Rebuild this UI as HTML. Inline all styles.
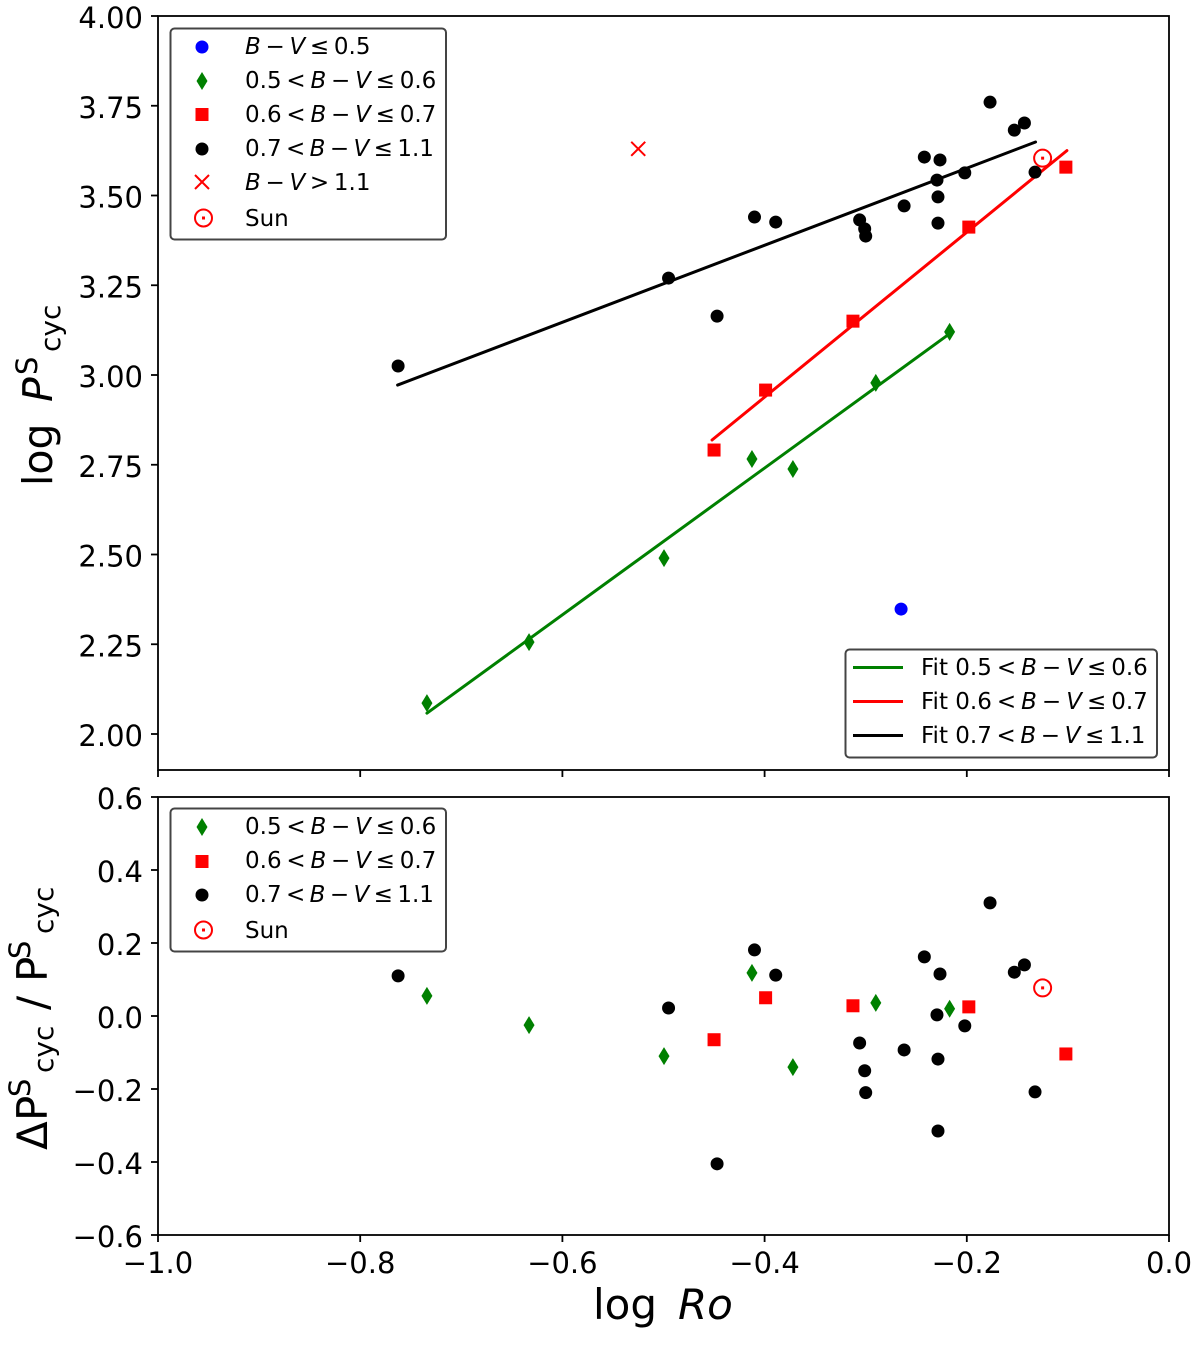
<!DOCTYPE html>
<html lang="en"><head><meta charset="utf-8"><title>Cycle period vs Rossby number</title>
<style>
html,body{margin:0;padding:0;background:#fff}
svg{display:block}
text{font-family:"DejaVu Sans","Liberation Sans",sans-serif;fill:#000}
.lg{font-size:23px}
.i{font-style:italic}
.tick{font-size:29px}
.frame{fill:#fff;fill-opacity:.8;stroke:#444;stroke-width:2}
</style></head>
<body>
<svg id="c" width="1200" height="1345" viewBox="0 0 1200 1345" xmlns="http://www.w3.org/2000/svg">
  <g id="top-marks"></g>
  <g id="bot-marks"></g>
  <g id="axes"></g>

  <g>
    <text transform="translate(52,486) rotate(-90)" font-size="41">log</text>
    <text transform="translate(52,402) rotate(-90)" font-size="41" class="i">P</text>
    <text transform="translate(37,375) rotate(-90)" font-size="29">S</text>
    <text transform="translate(60,352) rotate(-90)" font-size="28">cyc</text>
  </g>
  <g>
    <text transform="translate(47,1150) rotate(-90)" font-size="42">Δ</text>
    <text transform="translate(47,1121) rotate(-90)" font-size="42">P</text>
    <text transform="translate(30,1097) rotate(-90)" font-size="29">S</text>
    <text transform="translate(53,1073) rotate(-90)" font-size="28">cyc</text>
    <text transform="translate(47,1010) rotate(-90)" font-size="42">/</text>
    <text transform="translate(47,982) rotate(-90)" font-size="42">P</text>
    <text transform="translate(30,959) rotate(-90)" font-size="29">S</text>
    <text transform="translate(53,934) rotate(-90)" font-size="28">cyc</text>
  </g>
  <text x="593" y="1319" font-size="42">log<tspan x="678" class="i">Ro</tspan></text>

  <g>
    <rect class="frame" x="170.5" y="28.5" width="275.5" height="211" rx="4"/>
    <circle cx="202" cy="47" r="6.5" fill="#0000ff"/>
    <polygon points="202,72 207.5,81 202,90 196.5,81" fill="#008000"/>
    <rect x="195.5" y="108" width="13" height="13" fill="#ff0000"/>
    <circle cx="202" cy="149" r="6.5" fill="#000"/>
    <path d="M195,175 L209,189 M209,175 L195,189" stroke="#ff0000" stroke-width="2" fill="none"/>
    <circle cx="203.500" cy="218" r="8.500" fill="none" stroke="#ff0000" stroke-width="2"/><rect x="202" y="216.500" width="3" height="3" fill="#ff0000"/>
    <text class="lg" x="245" y="54"><tspan class="i">B</tspan><tspan dx="4.700">−</tspan><tspan dx="4.700" class="i">V</tspan><tspan dx="4.700">≤</tspan><tspan dx="4.700">0.5</tspan></text>
    <text class="lg" x="245" y="88">0.5<tspan dx="4.800">&lt;</tspan><tspan dx="4.800" class="i">B</tspan><tspan dx="4.800">−</tspan><tspan dx="4.800" class="i">V</tspan><tspan dx="4.800">≤</tspan><tspan dx="4.800">0.6</tspan></text>
    <text class="lg" x="245" y="122">0.6<tspan dx="4.800">&lt;</tspan><tspan dx="4.800" class="i">B</tspan><tspan dx="4.800">−</tspan><tspan dx="4.800" class="i">V</tspan><tspan dx="4.800">≤</tspan><tspan dx="4.800">0.7</tspan></text>
    <text class="lg" x="245" y="156">0.7<tspan dx="4.400">&lt;</tspan><tspan dx="4.400" class="i">B</tspan><tspan dx="4.400">−</tspan><tspan dx="4.400" class="i">V</tspan><tspan dx="4.400">≤</tspan><tspan dx="4.400">1.1</tspan></text>
    <text class="lg" x="245" y="190"><tspan class="i">B</tspan><tspan dx="4.700">−</tspan><tspan dx="4.700" class="i">V</tspan><tspan dx="4.700">&gt;</tspan><tspan dx="4.700">1.1</tspan></text>
    <text class="lg" x="245" y="226">Sun</text>
  </g>

  <g>
    <rect class="frame" x="845.5" y="649.500" width="311.500" height="108" rx="4"/>
    <line x1="853" x2="903" y1="667.500" y2="667.500" stroke="#008000" stroke-width="3"/>
    <line x1="853" x2="903" y1="701.500" y2="701.500" stroke="#ff0000" stroke-width="3"/>
    <line x1="853" x2="903" y1="735.500" y2="735.500" stroke="#000" stroke-width="3"/>
    <text class="lg" x="921" y="675">Fit 0.5<tspan dx="5">&lt;</tspan><tspan dx="5" class="i">B</tspan><tspan dx="5">−</tspan><tspan dx="5" class="i">V</tspan><tspan dx="5">≤</tspan><tspan dx="5">0.6</tspan></text>
    <text class="lg" x="921" y="709">Fit 0.6<tspan dx="5">&lt;</tspan><tspan dx="5" class="i">B</tspan><tspan dx="5">−</tspan><tspan dx="5" class="i">V</tspan><tspan dx="5">≤</tspan><tspan dx="5">0.7</tspan></text>
    <text class="lg" x="921" y="743">Fit 0.7<tspan dx="4.600">&lt;</tspan><tspan dx="4.600" class="i">B</tspan><tspan dx="4.600">−</tspan><tspan dx="4.600" class="i">V</tspan><tspan dx="4.600">≤</tspan><tspan dx="4.600">1.1</tspan></text>
  </g>

  <g>
    <rect class="frame" x="170.5" y="808.500" width="275.500" height="143" rx="4"/>
    <polygon points="202,818 207.500,827 202,836 196.500,827" fill="#008000"/>
    <rect x="195.5" y="855" width="13" height="13" fill="#ff0000"/>
    <circle cx="202" cy="895" r="6.5" fill="#000"/>
    <circle cx="203.500" cy="930" r="8.500" fill="none" stroke="#ff0000" stroke-width="2"/><rect x="202" y="928.500" width="3" height="3" fill="#ff0000"/>
    <text class="lg" x="245" y="834">0.5<tspan dx="4.800">&lt;</tspan><tspan dx="4.800" class="i">B</tspan><tspan dx="4.800">−</tspan><tspan dx="4.800" class="i">V</tspan><tspan dx="4.800">≤</tspan><tspan dx="4.800">0.6</tspan></text>
    <text class="lg" x="245" y="868">0.6<tspan dx="4.800">&lt;</tspan><tspan dx="4.800" class="i">B</tspan><tspan dx="4.800">−</tspan><tspan dx="4.800" class="i">V</tspan><tspan dx="4.800">≤</tspan><tspan dx="4.800">0.7</tspan></text>
    <text class="lg" x="245" y="902">0.7<tspan dx="4.400">&lt;</tspan><tspan dx="4.400" class="i">B</tspan><tspan dx="4.400">−</tspan><tspan dx="4.400" class="i">V</tspan><tspan dx="4.400">≤</tspan><tspan dx="4.400">1.1</tspan></text>
    <text class="lg" x="245" y="938">Sun</text>
  </g>
</svg>
<script>
// ---- data ----
const blackRo   = [-0.7625,-0.495,-0.447,-0.410,-0.389,-0.306,-0.301,-0.300,-0.262,-0.242,-0.2295,-0.2285,-0.2285,-0.2265,-0.202,-0.177,-0.153,-0.143,-0.1325];
const blackLogP = [3.025,3.270,3.164,3.440,3.426,3.432,3.407,3.387,3.471,3.607,3.543,3.496,3.423,3.599,3.563,3.760,3.682,3.702,3.565];
const blackResid= [0.110,0.022,-0.405,0.181,0.112,-0.074,-0.150,-0.210,-0.093,0.162,0.003,-0.118,-0.315,0.115,-0.027,0.310,0.120,0.140,-0.208];
const greenRo   = [-0.734,-0.633,-0.4995,-0.4125,-0.372,-0.290,-0.217];
const greenLogP = [2.086,2.256,2.490,2.766,2.738,2.978,3.120];
const greenResid= [0.055,-0.025,-0.110,0.118,-0.140,0.036,0.020];
const redRo     = [-0.450,-0.399,-0.3126,-0.198,-0.102];
const redLogP   = [2.791,2.958,3.150,3.412,3.579];
const redResid  = [-0.065,0.050,0.028,0.025,-0.104];
const blueRo    = [-0.265];
const blueLogP  = [2.348];
const crossRo   = [-0.525];
const crossLogP = [3.630];
const sunRo     = [-0.125];
const sunLogP   = [3.604];
const sunResid  = [0.077];
const fitGreenRo   = [-0.734,-0.217];
const fitGreenLogP = [2.058,3.115];
const fitRedRo     = [-0.452,-0.101];
const fitRedLogP   = [2.819,3.625];
const fitBlackRo   = [-0.763,-0.132];
const fitBlackLogP = [2.972,3.649];
const xTicks    = [-1.0,-0.8,-0.6,-0.4,-0.2,0.0];
const topYTicks = [4.00,3.75,3.50,3.25,3.00,2.75,2.50,2.25,2.00];
const botYTicks = [0.6,0.4,0.2,0.0,-0.2,-0.4,-0.6];

// ---- axis functions ----
const X  = v => 158 + (v + 1) * 1011;
const YT = v => 16 + (4 - v) * 359;
const YB = v => 1016 - v * 365;
const fmt = (v, d) => (v < 0 ? '\u2212' : '') + Math.abs(v).toFixed(d);

const NS = 'http://www.w3.org/2000/svg';
const topG = document.getElementById('top-marks');
const botG = document.getElementById('bot-marks');
const axG  = document.getElementById('axes');

function mk(parent, tag, attrs) {
  const el = document.createElementNS(NS, tag);
  for (const k in attrs) el.setAttribute(k, attrs[k]);
  parent.appendChild(el);
  return el;
}
function dot(parent, x, y, color) {
  const el = mk(parent, 'circle', {cx: x, cy: y, r: 6.5, fill: color});
  
  
}
function diamond(parent, x, y) {
  const el = mk(parent, 'polygon', {points: `${x},${y-9} ${x+5.5},${y} ${x},${y+9} ${x-5.5},${y}`, fill: '#008000'});
  
  
}
function square(parent, x, y) {
  const el = mk(parent, 'rect', {x: x-6.5, y: y-6.5, width: 13, height: 13, fill: '#ff0000'});
  
  
}
function cross(parent, x, y) {
  const el = mk(parent, 'path', {d: `M${x-7},${y-7} L${x+7},${y+7} M${x+7},${y-7} L${x-7},${y+7}`, stroke: '#ff0000', 'stroke-width': 2, fill: 'none'});
  
  
}
function sun(parent, x, y) {
  const g = mk(parent, 'g', {});
  
  
  mk(g, 'circle', {cx: x, cy: y, r: 8.5, fill: 'none', stroke: '#ff0000', 'stroke-width': 2});
  mk(g, 'rect', {x: x-1.5, y: y-1.5, width: 3, height: 3, fill: '#ff0000'});
}
function fit(parent, xs, ys, color) {
  const el = mk(parent, 'line', {x1: X(xs[0]), y1: YT(ys[0]), x2: X(xs[1]), y2: YT(ys[1]), stroke: color, 'stroke-width': 3, 'stroke-linecap': 'round'});
  
  
}

// ---- fit lines ----
fit(topG, fitGreenRo, fitGreenLogP, '#008000');
fit(topG, fitRedRo, fitRedLogP, '#ff0000');
fit(topG, fitBlackRo, fitBlackLogP, '#000');

// ---- top panel points ----
blueRo.forEach((v, i) => dot(topG, X(v), YT(blueLogP[i]), '#0000ff'));
greenRo.forEach((v, i) => diamond(topG, X(v), YT(greenLogP[i])));
redRo.forEach((v, i) => square(topG, X(v), YT(redLogP[i])));
blackRo.forEach((v, i) => dot(topG, X(v), YT(blackLogP[i]), '#000'));
crossRo.forEach((v, i) => cross(topG, X(v), YT(crossLogP[i])));
sunRo.forEach((v, i) => sun(topG, X(v), YT(sunLogP[i])));

// ---- bottom panel points ----
greenRo.forEach((v, i) => diamond(botG, X(v), YB(greenResid[i])));
redRo.forEach((v, i) => square(botG, X(v), YB(redResid[i])));
blackRo.forEach((v, i) => dot(botG, X(v), YB(blackResid[i]), '#000'));
sunRo.forEach((v, i) => sun(botG, X(v), YB(sunResid[i])));

// ---- axes ----
function tickLine(x1, y1, x2, y2) {
  const el = mk(axG, 'line', {x1, y1, x2, y2, stroke: '#000', 'stroke-width': 1.8});
  
  
}
function tickText(x, y, anchor, str) {
  const el = mk(axG, 'text', {x, y, 'text-anchor': anchor, class: 'tick'});
  el.textContent = str;
  
  
}
const topFrame = mk(axG, 'rect', {x: 158, y: 16, width: 1011, height: 754, fill: 'none', stroke: '#000', 'stroke-width': 1.8});


const botFrame = mk(axG, 'rect', {x: 158, y: 797, width: 1011, height: 438, fill: 'none', stroke: '#000', 'stroke-width': 1.8});



xTicks.forEach(v => {
  tickLine(X(v), 770, X(v), 777);
  tickLine(X(v), 1235, X(v), 1242);
  tickText(X(v), 1273, 'middle', fmt(v, 1));
});
topYTicks.forEach(v => {
  tickLine(151, YT(v), 158, YT(v));
  tickText(143, YT(v) + 12, 'end', fmt(v, 2));
});
botYTicks.forEach(v => {
  tickLine(151, YB(v), 158, YB(v));
  tickText(143, YB(v) + 12, 'end', fmt(v, 1));
});
</script>
</body></html>
